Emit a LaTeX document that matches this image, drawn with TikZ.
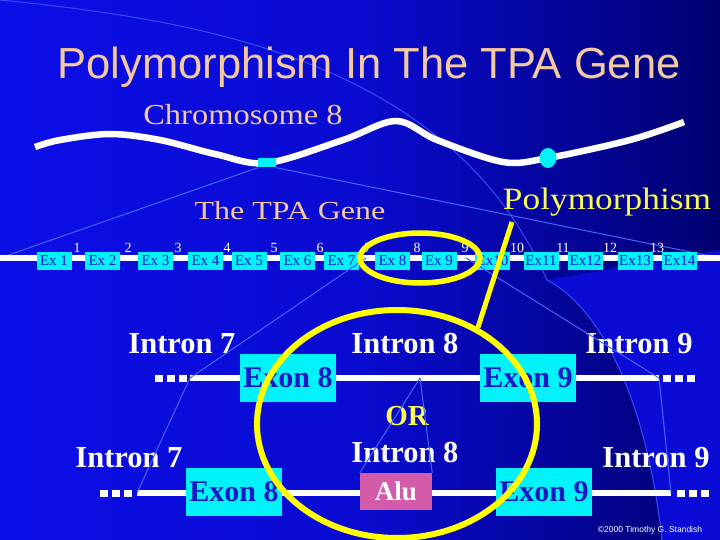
\documentclass[tikz,border=0pt]{standalone}
\usepackage{fontspec}
\setmainfont{Liberation Serif}
\newfontfamily\titlefont{Liberation Sans}
\usepackage{tikz}
\usetikzlibrary{
    positioning, % relative placement
    shapes.geometric % ellipse nodes
}
\definecolor{slideblue}{RGB}{12,14,232}
\definecolor{slidenavy}{RGB}{0,0,112}
\definecolor{peach}{RGB}{244,200,160}
\definecolor{exoncyan}{RGB}{0,242,250}
\definecolor{exonink}{RGB}{22,24,200}
\definecolor{polyyellow}{RGB}{250,250,80}
\definecolor{ringyellow}{RGB}{255,255,0}
\definecolor{alupink}{RGB}{212,90,170}
\definecolor{zoomline}{RGB}{70,100,255}
% stretched slide text
\newcommand{\widetext}[2][1.2]{\scalebox{#1}[1]{#2}}

\begin{document}
\begin{tikzpicture}[x=1pt,y=-1pt]
    % styles
    \tikzstyle{exbox}   = [rectangle, fill=exoncyan, text=exonink, inner sep=0pt,
                           minimum width=35pt, minimum height=18pt, font=\fontsize{15}{15}\selectfont]
    \tikzstyle{num}     = [text=white, inner sep=0pt, anchor=base, font=\fontsize{14}{14}\selectfont]
    \tikzstyle{bigexon} = [rectangle, fill=exoncyan, text=exonink, inner sep=0pt,
                           minimum width=96pt, minimum height=48pt, font=\fontsize{30}{30}\selectfont\bfseries]
    \tikzstyle{intron}  = [text=white, inner sep=0pt, anchor=base, font=\fontsize{30.5}{30.5}\selectfont\bfseries]
    \tikzstyle{dna}     = [draw=white, line width=6pt]
    \tikzstyle{dots}    = [draw=white, line width=7pt, dash pattern=on 8pt off 4pt]
    \tikzstyle{zoom}    = [draw=zoomline, line width=1pt]
    \tikzstyle{ring}    = [draw=ringyellow, line width=5.5pt]

    % background
    \useasboundingbox (0,0) rectangle (720,540);
    \shade[left color=slideblue, right color=slidenavy, middle color=slideblue!80!slidenavy]
        (0,0) rectangle (720,540);
    \fill[slideblue!85!slidenavy] (547,280) .. controls (605,310) and (648,410) .. (662,540)
        -- (720,540) -- (720,250) -- cycle;
    \draw[zoom, draw=zoomline!70!slideblue] (0,0) .. controls (200,20) and (450,60) .. (547,280);
    \draw[zoom, draw=zoomline!70!slideblue] (547,280) .. controls (605,310) and (648,410) .. (662,540);

    % title
    \node[text=peach, anchor=base, inner sep=0pt, font=\titlefont\fontsize{43.5}{43.5}\selectfont]
        (title) at (369,79) {Polymorphism In The TPA Gene};

    % chromosome 8
    \node[text=peach, anchor=base, inner sep=0pt, font=\fontsize{29}{29}\selectfont]
        (chromo) at (243,125) {\widetext[1.12]{Chromosome 8}};
    \coordinate (gl) at (0,258);
    \coordinate (gr) at (720,258);
    \node[rectangle, fill=exoncyan, inner sep=0pt, minimum width=18pt, minimum height=9pt]
        (cband) at (267,163) {};
    \draw[zoom] (cband.south west) -- (gl);
    \draw[zoom] (cband.south east) -- (gr);
    \draw[dna, line width=6.5pt] plot[smooth, tension=0.55] coordinates {
        (35,147) (60,140) (110,134) (160,140) (215,154) (267,163) (343,140) (396,121)
        (437,140) (503,162) (548,158) (630,140) (684,122)};
    \node[rectangle, fill=exoncyan, inner sep=0pt, minimum width=18pt, minimum height=9pt]
        at (267,163) {};
    \node[ellipse, fill=exoncyan, inner sep=0pt, minimum width=17pt, minimum height=20pt]
        (cmark) at (548,158) {};

    % the TPA gene
    \node[text=peach, anchor=base, inner sep=0pt, font=\fontsize{26}{26}\selectfont]
        (genename) at (290,219) {\widetext[1.23]{The TPA Gene}};
    \node[text=polyyellow, anchor=base, inner sep=0pt, font=\fontsize{31}{31}\selectfont]
        (polyword) at (607,210) {\widetext[1.14]{Polymorphism}};
    \draw[dna] (gl) -- (gr);
    \node[exbox] (ex1)  at (54,261)    {Ex 1};
    \node[exbox] (ex2)  at (102.5,261) {Ex 2};
    \node[exbox] (ex3)  at (155.5,261) {Ex 3};
    \node[exbox] (ex4)  at (205.5,261) {Ex 4};
    \node[exbox] (ex5)  at (249,261)   {Ex 5};
    \node[exbox] (ex6)  at (297.5,261) {Ex 6};
    \node[exbox] (ex7)  at (341.5,261) {Ex 7};
    \node[exbox] (ex8)  at (392.5,261) {Ex 8};
    \node[exbox] (ex9)  at (439,261)   {Ex 9};
    \node[exbox] (ex10) at (492.5,261) {Ex10};
    \node[exbox] (ex11) at (541,261)   {Ex11};
    \node[exbox] (ex12) at (585.5,261) {Ex12};
    \node[exbox] (ex13) at (635,261)   {Ex13};
    \node[exbox] (ex14) at (679.5,261) {Ex14};
    % intron numbers
    \node[num] (n1)  at (77,252)  {1};
    \node[num] (n2)  at (128,252) {2};
    \node[num] (n3)  at (178,252) {3};
    \node[num] (n4)  at (227,252) {4};
    \node[num] (n5)  at (274,252) {5};
    \node[num] (n6)  at (320,252) {6};
    \node[num] (n7)  at (368,252) {7};
    \node[num] (n8)  at (417,252) {8};
    \node[num] (n9)  at (465,252) {9};
    \node[num] (n10) at (517,252) {10};
    \node[num] (n11) at (563,252) {11};
    \node[num] (n12) at (610,252) {12};
    \node[num] (n13) at (657,252) {13};
    \coordinate (i7) at (366,258);
    \coordinate (i9) at (466,258);

    % normal allele
    \coordinate (r1a) at (190,378);
    \coordinate (r1b) at (659,378);
    \draw[dots] (155,378) -- (187,378);
    \draw[dna] (r1a) -- (r1b);
    \draw[dots] (663,378) -- (695,378);
    \node[bigexon] (exon8a) at (288,378) {Exon 8};
    \node[bigexon] (exon9a) at (528,378) {Exon 9};
    \node[intron] (intron7a) at (182,353) {Intron 7};
    \node[intron] (intron8a) at (405,353) {Intron 8};
    \node[intron] (intron9a) at (639,353) {Intron 9};
    \coordinate (alusite) at (420,378);

    % allele with the Alu insert
    \node[text=polyyellow, anchor=base, inner sep=0pt, font=\fontsize{29}{29}\selectfont\bfseries]
        (orword) at (407,425) {OR};
    \coordinate (r2a) at (137,493);
    \coordinate (r2b) at (671,493);
    \draw[dots] (100,493) -- (132,493);
    \draw[dna] (r2a) -- (r2b);
    \draw[dots] (677,493) -- (709,493);
    \node[bigexon] (exon8b) at (234,492) {Exon 8};
    \node[bigexon] (exon9b) at (544,492) {Exon 9};
    \node[rectangle, fill=alupink, text=white, inner sep=0pt, minimum width=72pt, minimum height=37pt,
          font=\fontsize{27}{27}\selectfont\bfseries] (alu) at (396,491.5) {Alu};
    \node[intron] (intron7b) at (129,467) {Intron 7};
    \node[intron] (intron8b) at (405,462) {Intron 8};
    \node[intron] (intron9b) at (656,467) {Intron 9};

    % zoom lines
    \draw[zoom] (i7) -- (r1a);
    \draw[zoom] (r1a) -- (r2a);
    \draw[zoom] (i9) -- (r1b);
    \draw[zoom] (r1b) -- (r2b);
    \draw[zoom] (alusite) -- (alu.north west);
    \draw[zoom] (alusite) -- (alu.north east);

    % yellow rings
    \node[ellipse, ring, inner sep=0pt, minimum width=120pt, minimum height=50pt] (polyring) at (420,258) {};
    \node[ellipse, ring, line width=6pt, inner sep=0pt, minimum width=280pt, minimum height=228pt]
        (bigring) at (397,424) {};
    \coordinate (ptip) at (512,222);
    \draw[ring, line width=5pt] (ptip) -- (bigring.50);

    \node[text=white, anchor=base, inner sep=0pt, font=\titlefont\fontsize{8.5}{8.5}\selectfont]
        (credit) at (650,532) {\textcopyright 2000 Timothy G. Standish};
\end{tikzpicture}
\end{document}
